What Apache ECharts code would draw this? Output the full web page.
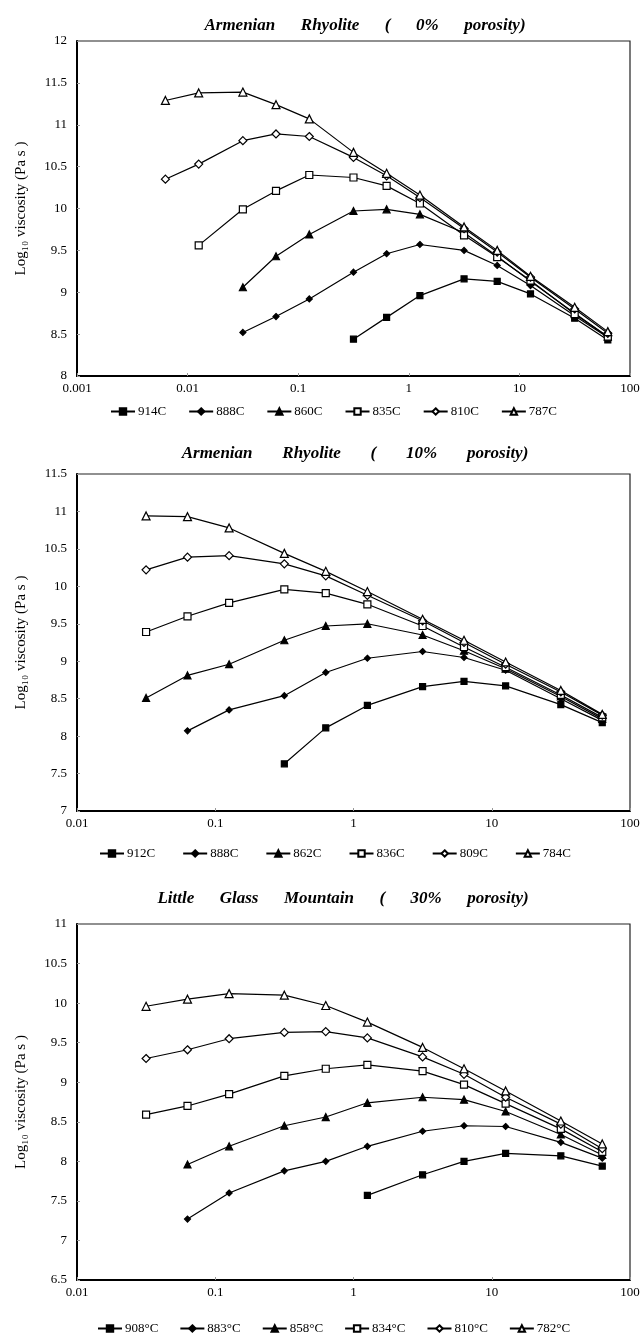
<!DOCTYPE html>
<html>
<head>
<meta charset="utf-8">
<script src="https://cdn.jsdelivr.net/npm/echarts@6/dist/echarts.min.js"></script>
<style>
  html, body { margin: 0; padding: 0; background: #fff; }
  #main { width: 643px; height: 1335px; }
</style>
</head>
<body>
<div id="main"></div>
<script>
// strain rates (x) and log10 viscosity per temperature
var rateA = [0.0063, 0.0126, 0.0316, 0.063, 0.126, 0.316, 0.63, 1.26, 3.16, 6.3, 12.6, 31.6, 63];
var rateB = [0.0316, 0.063, 0.126, 0.316, 0.63, 1.26, 3.16, 6.3, 12.6, 31.6, 63];

// Armenian Rhyolite 0% porosity
var names1 = ['914C', '888C', '860C', '835C', '810C', '787C'];
var a914 = [null, null, null, null, null, 8.44, 8.70, 8.96, 9.16, 9.13, 8.98, 8.69, 8.43];
var a888 = [null, null, 8.52, 8.71, 8.92, 9.24, 9.46, 9.57, 9.50, 9.32, 9.08, 8.72, 8.46];
var a860 = [null, null, 9.06, 9.43, 9.69, 9.97, 9.99, 9.93, 9.71, 9.43, 9.13, 8.75, 8.47];
var a835 = [null, 9.56, 9.99, 10.21, 10.40, 10.37, 10.27, 10.06, 9.68, 9.42, 9.14, 8.74, 8.47];
var a810 = [10.35, 10.53, 10.81, 10.89, 10.86, 10.61, 10.39, 10.13, 9.76, 9.48, 9.18, 8.80, 8.51];
var a787 = [11.29, 11.38, 11.39, 11.24, 11.07, 10.67, 10.42, 10.16, 9.78, 9.50, 9.19, 8.82, 8.53];

// Armenian Rhyolite 10% porosity
var names2 = ['912C', '888C', '862C', '836C', '809C', '784C'];
var b912 = [null, null, null, 7.63, 8.11, 8.41, 8.66, 8.73, 8.67, 8.42, 8.18];
var b888 = [null, 8.07, 8.35, 8.54, 8.85, 9.04, 9.13, 9.05, 8.88, 8.50, 8.21];
var b862 = [8.51, 8.81, 8.96, 9.28, 9.47, 9.50, 9.35, 9.14, 8.90, 8.53, 8.23];
var b836 = [9.39, 9.60, 9.78, 9.96, 9.91, 9.76, 9.47, 9.19, 8.92, 8.55, 8.25];
var b809 = [10.22, 10.39, 10.41, 10.30, 10.14, 9.88, 9.54, 9.25, 8.96, 8.59, 8.28];
var b784 = [10.94, 10.93, 10.78, 10.44, 10.20, 9.93, 9.56, 9.28, 8.99, 8.61, 8.29];

// Little Glass Mountain 30% porosity
var names3 = ['908°C', '883°C', '858°C', '834°C', '810°C', '782°C'];
var c908 = [null, null, null, null, null, 7.57, 7.83, 8.00, 8.10, 8.07, 7.94];
var c883 = [null, 7.27, 7.60, 7.88, 8.00, 8.19, 8.38, 8.45, 8.44, 8.24, 8.04];
var c858 = [null, 7.96, 8.19, 8.45, 8.56, 8.74, 8.81, 8.78, 8.63, 8.34, 8.08];
var c834 = [8.59, 8.70, 8.85, 9.08, 9.17, 9.22, 9.14, 8.97, 8.73, 8.41, 8.12];
var c810 = [9.30, 9.41, 9.55, 9.63, 9.64, 9.56, 9.32, 9.10, 8.81, 8.47, 8.16];
var c782 = [9.96, 10.05, 10.12, 10.10, 9.97, 9.76, 9.44, 9.17, 8.89, 8.51, 8.22];

var titles = ['Armenian      Rhyolite      (      0%      porosity)',
              'Armenian       Rhyolite       (       10%       porosity)',
              'Little      Glass      Mountain      (      30%      porosity)'];
var yMin = [8, 7, 6.5];
var yMax = [12, 11.5, 11];
var xMin = [0.001, 0.01, 0.01];

var serif = "'Liberation Serif', 'Times New Roman', serif";

// marker look for each temperature slot (hottest first)
var marks = [
  { symbol: 'rect', size: 6, fill: '#000' },
  { symbol: 'diamond', size: 6, fill: '#000' },
  { symbol: 'triangle', size: 7, fill: '#000' },
  { symbol: 'rect', size: 7, fill: '#fff' },
  { symbol: 'diamond', size: 8, fill: '#fff' },
  { symbol: 'triangle', size: 8, fill: '#fff' }
];

var grids = [
  { left: 77, width: 553, top: 41, height: 335 },
  { left: 77, width: 553, top: 474, height: 337 },
  { left: 77, width: 553, top: 924, height: 356 }
];
var titleTop = [12, 440, 885];
var titleLeft = [360, 350, 338];
var legendTop = [400, 842, 1317];
var legendLeft = [105, 94, 92];
var legendGap = [22, 27, 21];

function pairs(xs, ys) {
  var out = [];
  for (var i = 0; i < xs.length; i++) {
    if (ys[i] != null) out.push([xs[i], ys[i]]);
  }
  return out;
}

function mkSeries(name, xs, ys, k, gi) {
  var m = marks[k];
  return {
    type: 'line',
    name: name,
    xAxisIndex: gi,
    yAxisIndex: gi,
    data: pairs(xs, ys),
    symbol: m.symbol,
    symbolSize: m.size,
    showAllSymbol: true,
    itemStyle: { color: m.fill, borderColor: '#000', borderWidth: 1.2 },
    lineStyle: { color: '#000', width: 1.2 },
    emphasis: { disabled: true },
    animation: false
  };
}

var sets = [
  { names: names1, xs: rateA, ys: [a914, a888, a860, a835, a810, a787] },
  { names: names2, xs: rateB, ys: [b912, b888, b862, b836, b809, b784] },
  { names: names3, xs: rateB, ys: [c908, c883, c858, c834, c810, c782] }
];

var series = [];
sets.forEach(function (s, gi) {
  for (var k = 0; k < 6; k++) {
    series.push(mkSeries(s.names[k], s.xs, s.ys[k], k, gi));
  }
});

var option = {
  backgroundColor: '#fff',
  title: titles.map(function (t, i) {
    return {
      text: t,
      left: titleLeft[i],
      top: titleTop[i],
      textAlign: 'center',
      textStyle: { fontFamily: serif, fontStyle: 'italic', fontWeight: 'bold', fontSize: 17, color: '#000' }
    };
  }),
  legend: sets.map(function (s, i) {
    return {
      data: s.names,
      left: legendLeft[i],
      top: legendTop[i],
      itemWidth: 24,
      itemHeight: 8,
      itemGap: legendGap[i],
      selectedMode: false,
      textStyle: { fontFamily: serif, fontSize: 13, color: '#000', padding: [0, 0, 0, -2] }
    };
  }),
  grid: grids.map(function (g) {
    return {
      left: g.left, width: g.width, top: g.top, height: g.height,
      show: true, borderColor: '#222', borderWidth: 1.2, backgroundColor: 'transparent'
    };
  }),
  xAxis: grids.map(function (g, i) {
    return {
      type: 'log',
      logBase: 10,
      gridIndex: i,
      min: xMin[i],
      max: 100,
      axisLine: { show: true, lineStyle: { color: '#000', width: 2 } },
      axisTick: { show: true, inside: true, length: 3, lineStyle: { color: '#999' } },
      minorTick: { show: false },
      splitLine: { show: false },
      axisLabel: {
        fontFamily: serif, fontSize: 13, color: '#000', margin: 6,
        formatter: function (v) { return String(Number(v.toPrecision(3))); }
      }
    };
  }),
  yAxis: grids.map(function (g, i) {
    return {
      type: 'value',
      gridIndex: i,
      min: yMin[i],
      max: yMax[i],
      interval: 0.5,
      name: 'Log\u2081\u2080 viscosity (Pa s )',
      nameLocation: 'middle',
      nameGap: 48,
      nameTextStyle: { fontFamily: serif, fontSize: 15, color: '#000' },
      axisLine: { show: true, lineStyle: { color: '#000', width: 2 } },
      axisTick: { show: true, inside: true, length: 3, lineStyle: { color: '#999' } },
      splitLine: { show: false },
      axisLabel: { fontFamily: serif, fontSize: 13, color: '#000', margin: 10 }
    };
  }),
  series: series
};

var myChart = echarts.init(document.getElementById('main'));
myChart.setOption(option);
</script>
</body>
</html>
